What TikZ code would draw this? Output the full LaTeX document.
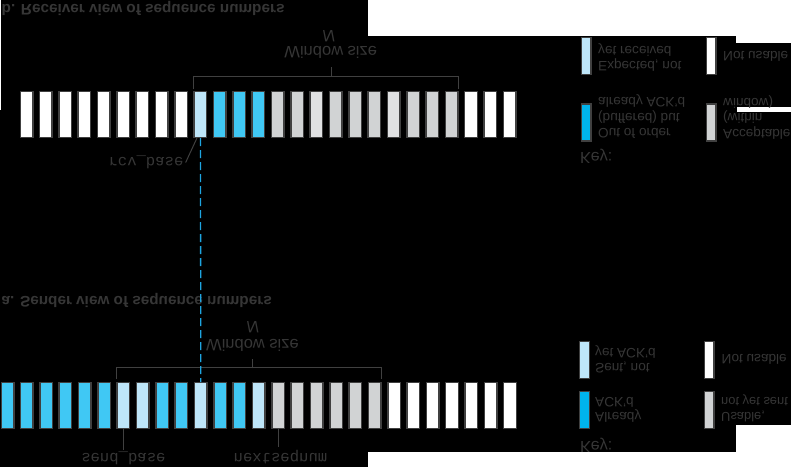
\documentclass[tikz,border=0pt]{standalone}
\usepackage{fontspec}
\setmainfont{Liberation Sans}
\setmonofont{Liberation Mono}
\usepackage{graphicx}
\usetikzlibrary{calc}

\definecolor{bblue}{RGB}{64,200,244}
\definecolor{kblue}{RGB}{0,180,236}
\definecolor{lblue}{RGB}{190,230,249}
\definecolor{bgray}{RGB}{209,211,212}
\definecolor{bgrayl}{RGB}{224,225,226}
\definecolor{txt}{RGB}{54,54,54}
\definecolor{edge}{RGB}{64,64,64}
\definecolor{dashblue}{RGB}{30,165,225}

\newcommand{\flipv}[1]{\scalebox{1}[-1]{#1}}

\tikzset{
  cell/.style={draw=edge, line width=1.4pt, minimum width=12.6pt, minimum height=45.6pt, inner sep=0pt},
  keycell/.style={draw=edge, line width=1.4pt, minimum width=9.6pt, minimum height=37pt, inner sep=0pt},
  lbl/.style={text=txt, inner sep=1pt, font=\fontsize{13.6}{15.5}\selectfont},
  keyt/.style={text=txt, inner sep=1pt, font=\fontsize{16}{18}\selectfont},
  ttl/.style={text=txt, inner sep=1pt, font=\fontsize{15.3}{17}\selectfont\bfseries},
  win/.style={text=txt, inner sep=1pt, font=\fontsize{16.5}{18}\selectfont},
  mono/.style={text=txt, inner sep=1pt, font=\fontsize{15.6}{17}\selectfont\ttfamily},
  brk/.style={draw=edge, line width=1pt},
  dashln/.style={draw=dashblue, line width=1.3pt, dash pattern=on 8pt off 4pt}
}

\begin{document}
\begin{tikzpicture}[x=1pt,y=-1pt]
\fill[black] (0,0) rectangle (791,467);
\useasboundingbox (0,0) rectangle (791,467);
% white patches
\fill[white] (368,0) rectangle (791,36);
\fill[white] (736,0) rectangle (791,43.3);
\fill[white] (737,106.7) rectangle (791,111.7);
\fill[white] (368,451.7) rectangle (791,467);
\fill[white] (736,425) rectangle (791,467);
\fill[white] (0,0) rectangle (1,110);

% ---------- receiver row ----------
\foreach \c [count=\i from 0] in {white,white,white,white,white,white,white,white,white,lblue,bblue,bblue,bblue,bgray,bgray,bgrayl,bgray,bgray,bgray,bgrayl,bgray,bgray,bgray,white,white,white}
  \node[cell, fill=\c] (r\i) at ({26.5+19.33*\i},114.5) {};

% ---------- sender row ----------
\foreach \c [count=\i from 0] in {bblue,bblue,bblue,bblue,bblue,bblue,lblue,lblue,bblue,bblue,lblue,bblue,bblue,lblue,bgray,bgray,bgray,bgray,bgray,bgray,white,white,white,white,white,white,white}
  \node[cell, fill=\c] (s\i) at ({7.5+19.33*\i},405.5) {};

% titles
\node[ttl, anchor=west] (tb) at (0.5,8.3) {\flipv{b. Receiver view of sequence numbers}};
\node[ttl, anchor=west] (ta) at (0.5,300.8) {\flipv{a. Sender view of sequence numbers}};

% receiver window bracket
\draw[brk] ([yshift=1.7pt]r9.north west) -- ++(0,-13.3) -| ([yshift=1.7pt]r22.north east);
\draw[brk] (331,76.7) -- (331,66.7);
\node[win] (wr) at (330.8,52.3) {\flipv{Window size}};
\node[win] (nr) at (328.5,36) {\flipv{\itshape N}};

% sender window bracket
\draw[brk] ([yshift=2.7pt]s6.north west) -- ++(0,-11.7) -| ([yshift=2.7pt]s19.north east);
\draw[brk] (252.3,368.3) -- (252.3,359);
\node[win] (ws) at (252.5,345.8) {\flipv{Window size}};
\node[win] (ns) at (252.5,327.2) {\flipv{\itshape N}};

% rcv_base
\node[mono] (rb) at (146,162.5) {\flipv{rcv\_base}};
\draw[brk] ([xshift=-3.5pt]r9.south) -- ([xshift=1pt]rb.east);
\draw[dashln] (r9.south) -- (s10.north);

% send_base, nextseqnum
\node[mono] (sb) at (123.4,458) {\flipv{send\_base}};
\node[mono] (nx) at (280.5,456.7) {\flipv{nextseqnum}};
\draw[brk] (s6.south) -- (s6.south |- sb.north);
\draw[brk] (s14.south) -- ([yshift=2pt]s14.south |- nx.north);

% ---------- receiver key ----------
\node[keycell, fill=lblue] (rk1) at (586.2,55.8) {};
\node[keycell, fill=kblue] (rk2) at (586.2,122.5) {};
\node[keycell, fill=white] (rk3) at (711.3,55.8) {};
\node[keycell, fill=bgray] (rk4) at (711.3,122.5) {};
\node[lbl, anchor=west] (rk1t) at (597,57) {\flipv{\begin{tabular}{@{}l@{}}Expected, not\\yet received\end{tabular}}};
\node[lbl, anchor=west] (rk2t) at (597,116.5) {\flipv{\begin{tabular}{@{}l@{}}Out of order\\(buffered) but\\already ACK'd\end{tabular}}};
\node[lbl, anchor=west] (rk3t) at (722,56) {\flipv{Not usable}};
\node[lbl, anchor=west] (rk4t) at (722,117) {\flipv{\begin{tabular}{@{}l@{}}Acceptable\\(within\\window)\end{tabular}}};
\node[keyt, anchor=west] (rkk) at (579,156) {\flipv{Key:}};

% ---------- sender key ----------
\node[keycell, fill=lblue] (sk1) at (584.5,360.2) {};
\node[keycell, fill=kblue] (sk2) at (584.5,409.8) {};
\node[keycell, fill=white] (sk3) at (709.2,360.2) {};
\node[keycell, fill=bgray] (sk4) at (709.2,409.8) {};
\node[lbl, anchor=west] (sk1t) at (594,359) {\flipv{\begin{tabular}{@{}l@{}}Sent, not\\yet ACK'd\end{tabular}}};
\node[lbl, anchor=west] (sk2t) at (594,408) {\flipv{\begin{tabular}{@{}l@{}}Already\\ACK'd\end{tabular}}};
\node[lbl, anchor=west] (sk3t) at (720.5,359) {\flipv{Not usable}};
\node[lbl, anchor=west, inner sep=0pt, font=\fontsize{12.9}{15.5}\selectfont] (sk4t) at (721,408) {\flipv{\begin{tabular}{@{}l@{}}Usable,\\not yet sent\end{tabular}}};
\node[keyt, anchor=west] (skk) at (579,445) {\flipv{Key:}};
\end{tikzpicture}
\end{document}
